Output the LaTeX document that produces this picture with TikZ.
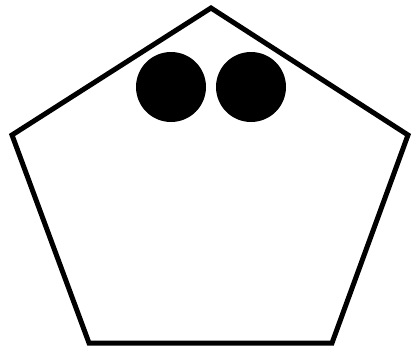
\documentclass[tikz,border=0pt]{standalone}
\usetikzlibrary{calc}

\begin{document}
\begin{tikzpicture}[x=1pt, y=-1pt,
    % Define the style for the outline and the dots
    edge/.style={line width=5pt, line join=miter},
    dot/.style={fill=black}
]

% Fix the picture size
\useasboundingbox (0,0) rectangle (412,348);

% Define the points of the pentagon
\coordinate (T) at (211,8);
\coordinate (R) at (408,135);
\coordinate (BR) at (332,343);
\coordinate (BL) at (89,343);
\coordinate (L) at (12,135);

% Draw the pentagon
\draw[edge] (T) -- (R) -- (BR) -- (BL) -- (L) -- cycle;

% Add the two dots
\coordinate (D1) at (171,87);
\coordinate (D2) at (251,87);
\fill[dot] (D1) circle (35);
\fill[dot] (D2) circle (35);

\end{tikzpicture}
\end{document}
